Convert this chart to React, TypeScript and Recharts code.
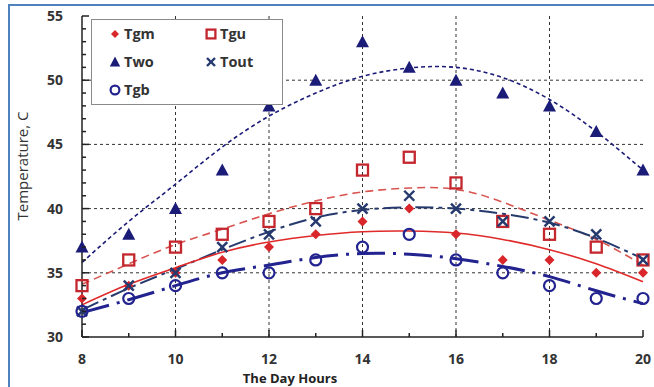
import { CartesianGrid, ComposedChart, Legend, Line, XAxis, YAxis } from 'recharts'

const hours = [8, 9, 10, 11, 12, 13, 14, 15, 16, 17, 18, 19, 20]
const tgm = [33, 34, 35, 36, 37, 38, 39, 40, 38, 36, 36, 35, 35]
const tgu = [34, 36, 37, 38, 39, 40, 43, 44, 42, 39, 38, 37, 36]
const two = [37, 38, 40, 43, 48, 50, 53, 51, 50, 49, 48, 46, 43]
const tout = [32, 34, 35, 37, 38, 39, 40, 41, 40, 39, 39, 38, 36]
const tgb = [32, 33, 34, 35, 35, 36, 37, 38, 36, 35, 34, 33, 33]

// trend curves
const tgmTrend = [32.5, 34.1, 35.4, 36.6, 37.4, 37.9, 38.2, 38.25, 38.1, 37.6, 36.8, 35.7, 34.3]
const tguTrend = [34.1, 35.7, 37.2, 38.4, 39.6, 40.6, 41.3, 41.6, 41.5, 40.5, 39.1, 37.6, 35.6]
const twoTrend = [35.8, 39.0, 41.9, 44.8, 47.2, 49.0, 50.3, 50.95, 51.0, 50.2, 48.5, 46.0, 43.0]
const toutTrend = [32.1, 33.8, 35.3, 36.8, 38.2, 39.3, 39.9, 40.1, 40.0, 39.6, 38.9, 37.7, 36.1]
const tgbTrend = [31.9, 32.9, 34.0, 35.0, 35.6, 36.2, 36.5, 36.45, 36.1, 35.5, 34.7, 33.6, 32.6]

const yTicks = [30, 31, 32, 33, 34, 35, 36, 37, 38, 39, 40, 41, 42, 43, 44, 45, 46, 47, 48, 49, 50, 51, 52, 53, 54, 55]
const xGrid = [10, 12, 14, 16, 18]
const yGrid = [35, 40, 45, 50]

const rows = hours.map((hour, i) => ({
  hour,
  tgm: tgm[i],
  tgu: tgu[i],
  two: two[i],
  tout: tout[i],
  tgb: tgb[i],
  tgmTrend: tgmTrend[i],
  tguTrend: tguTrend[i],
  twoTrend: twoTrend[i],
  toutTrend: toutTrend[i],
  tgbTrend: tgbTrend[i],
}))

const RED = '#d8262b'
const RED_SQ = '#c4262e'
const NAVY = '#1b1b78'
const TOUT = '#263a6e'
const CIRC = '#22238f'
const FONT = '"Open Sans", "Liberation Sans", Arial, sans-serif'

type MarkerKind = 'diamond' | 'square' | 'triangle' | 'x' | 'circle'

function Marker({ kind, cx, cy, scale = 1 }: { kind: MarkerKind; cx: number; cy: number; scale?: number }) {
  if (kind === 'diamond') {
    const s = 5 * scale
    return <path d={`M${cx},${cy - s}L${cx + s},${cy}L${cx},${cy + s}L${cx - s},${cy}Z`} fill={RED} />
  }
  if (kind === 'square') {
    const s = 5.5 * scale
    return <rect x={cx - s} y={cy - s} width={s * 2} height={s * 2} fill="none" stroke={RED_SQ} strokeWidth={2.3} />
  }
  if (kind === 'triangle') {
    const w = 6.5 * scale
    const h = 11 * scale
    return <path d={`M${cx},${cy - h / 2 - 1}L${cx + w},${cy + h / 2}L${cx - w},${cy + h / 2}Z`} fill={NAVY} />
  }
  if (kind === 'x') {
    const s = 5 * scale
    return (
      <g stroke={TOUT} strokeWidth={2.4}>
        <line x1={cx - s} y1={cy - s} x2={cx + s} y2={cy + s} />
        <line x1={cx - s} y1={cy + s} x2={cx + s} y2={cy - s} />
      </g>
    )
  }
  return <circle cx={cx} cy={cy} r={5.5 * scale} fill="none" stroke={CIRC} strokeWidth={2.2} />
}

function markerDot(kind: MarkerKind) {
  return (p: any) => <Marker key={`${kind}-${p.index}`} kind={kind} cx={p.cx} cy={p.cy} />
}

function XTick({ x, y, payload }: any) {
  const major = payload.value % 2 === 0
  return (
    <g>
      <line x1={x} y1={y} x2={x} y2={y - (major ? 7 : 4)} stroke="#222" strokeWidth={1.5} />
      {major ? (
        <text x={x} y={y + 27} textAnchor="middle" fill="#333" fontSize={14} fontWeight="bold" fontFamily={FONT}>
          {payload.value}
        </text>
      ) : null}
    </g>
  )
}

function YTick({ x, y, payload }: any) {
  const major = payload.value % 5 === 0
  return (
    <g>
      <line x1={x} y1={y} x2={x + (major ? 7 : 4)} y2={y} stroke="#222" strokeWidth={1.5} />
      {major ? (
        <text x={x - 19} y={y + 5} textAnchor="end" fill="#333" fontSize={14} fontWeight="bold" fontFamily={FONT}>
          {payload.value}
        </text>
      ) : null}
    </g>
  )
}

const legendItems: Array<{ name: string; kind: MarkerKind; col: number; row: number }> = [
  { name: 'Tgm', kind: 'diamond', col: 0, row: 0 },
  { name: 'Tgu', kind: 'square', col: 1, row: 0 },
  { name: 'Two', kind: 'triangle', col: 0, row: 1 },
  { name: 'Tout', kind: 'x', col: 1, row: 1 },
  { name: 'Tgb', kind: 'circle', col: 0, row: 2 },
]

function LegendBox() {
  return (
    <svg width={192} height={86} style={{ display: 'block' }}>
      <rect x={0.5} y={0.5} width={191} height={85} fill="#fff" stroke="#8a8a8a" strokeWidth={1} />
      {legendItems.map((item) => {
        const mx = item.col === 0 ? 24 : 120
        const my = 15 + item.row * 28
        return (
          <g key={item.name}>
            <Marker kind={item.kind} cx={mx} cy={my} scale={0.8} />
            <text x={mx + 9} y={my + 5} fill="#333" fontSize={14.5} fontWeight="bold" fontFamily={FONT}>
              {item.name}
            </text>
          </g>
        )
      })}
    </svg>
  )
}

export default function App() {
  return (
    <div style={{ position: 'relative', width: 654, height: 387, background: '#fff', fontFamily: FONT }}>
      <style>{'body{margin:0}'}</style>
      <div
        style={{
          position: 'absolute',
          left: 8,
          top: 4,
          width: 646,
          height: 383,
          borderLeft: '2px solid #4f81bd',
          borderTop: '2px solid #4f81bd',
          boxSizing: 'border-box',
        }}
      />
      <ComposedChart
        width={654}
        height={387}
        data={rows}
        margin={{ top: 16, right: 11, left: 0, bottom: 0 }}
        style={{ position: 'absolute', left: 0, top: 0 }}
      >
        <CartesianGrid
          stroke="#333"
          strokeDasharray="3 3"
          verticalValues={xGrid}
          horizontalValues={yGrid}
        />
        <XAxis
          dataKey="hour"
          type="number"
          domain={[8, 20]}
          ticks={hours}
          interval={0}
          height={50}
          axisLine={{ stroke: '#222', strokeWidth: 1.5 }}
          tickLine={false}
          tickSize={0}
          tickMargin={0}
          tick={<XTick />}
        />
        <XAxis
          xAxisId="top"
          orientation="top"
          dataKey="hour"
          type="number"
          domain={[8, 20]}
          height={0}
          axisLine={{ stroke: '#222', strokeWidth: 1.5 }}
          tick={false}
          tickLine={false}
        />
        <YAxis
          type="number"
          domain={[30, 55]}
          ticks={yTicks}
          interval={0}
          width={82}
          axisLine={{ stroke: '#222', strokeWidth: 1.5 }}
          tickLine={false}
          tickSize={0}
          tickMargin={0}
          tick={<YTick />}
        />
        <YAxis
          yAxisId="right"
          orientation="right"
          type="number"
          domain={[30, 55]}
          width={0}
          axisLine={{ stroke: '#222', strokeWidth: 1.5 }}
          tick={false}
          tickLine={false}
        />
        <Legend
          layout="horizontal"
          verticalAlign="middle"
          align="center"
          wrapperStyle={{ left: 91, top: 19, width: 192, height: 86 }}
          content={() => <LegendBox />}
        />

        <Line type="natural" dataKey="twoTrend" stroke={NAVY} strokeWidth={1.6} strokeDasharray="4 3" dot={false} activeDot={false} isAnimationActive={false} legendType="none" />
        <Line type="natural" dataKey="tguTrend" stroke="#d9534f" strokeWidth={1.6} strokeDasharray="8 5" dot={false} activeDot={false} isAnimationActive={false} legendType="none" />
        <Line type="natural" dataKey="toutTrend" stroke={TOUT} strokeWidth={2} strokeDasharray="18 5 4 5" dot={false} activeDot={false} isAnimationActive={false} legendType="none" />
        <Line type="natural" dataKey="tgmTrend" stroke="#e02a2a" strokeWidth={1.6} dot={false} activeDot={false} isAnimationActive={false} legendType="none" />
        <Line type="natural" dataKey="tgbTrend" stroke={CIRC} strokeWidth={3} strokeDasharray="28 8 3 8" dot={false} activeDot={false} isAnimationActive={false} legendType="none" />

        <Line dataKey="tgm" stroke="none" dot={markerDot('diamond')} activeDot={false} isAnimationActive={false} />
        <Line dataKey="tgu" stroke="none" dot={markerDot('square')} activeDot={false} isAnimationActive={false} />
        <Line dataKey="two" stroke="none" dot={markerDot('triangle')} activeDot={false} isAnimationActive={false} />
        <Line dataKey="tout" stroke="none" dot={markerDot('x')} activeDot={false} isAnimationActive={false} />
        <Line dataKey="tgb" stroke="none" dot={markerDot('circle')} activeDot={false} isAnimationActive={false} />
      </ComposedChart>
      <div
        style={{
          position: 'absolute',
          left: 238,
          top: 371,
          width: 104,
          textAlign: 'center',
          fontSize: 13,
          lineHeight: '15px',
          fontWeight: 'bold',
          color: '#222',
          whiteSpace: 'nowrap',
        }}
      >
        The Day Hours
      </div>
      <div
        style={{
          position: 'absolute',
          left: 22,
          top: 166,
          transform: 'translate(-50%, -50%) rotate(-90deg)',
          fontSize: 15,
          color: '#333',
          whiteSpace: 'nowrap',
        }}
      >
        Temperature, C
      </div>
    </div>
  )
}
